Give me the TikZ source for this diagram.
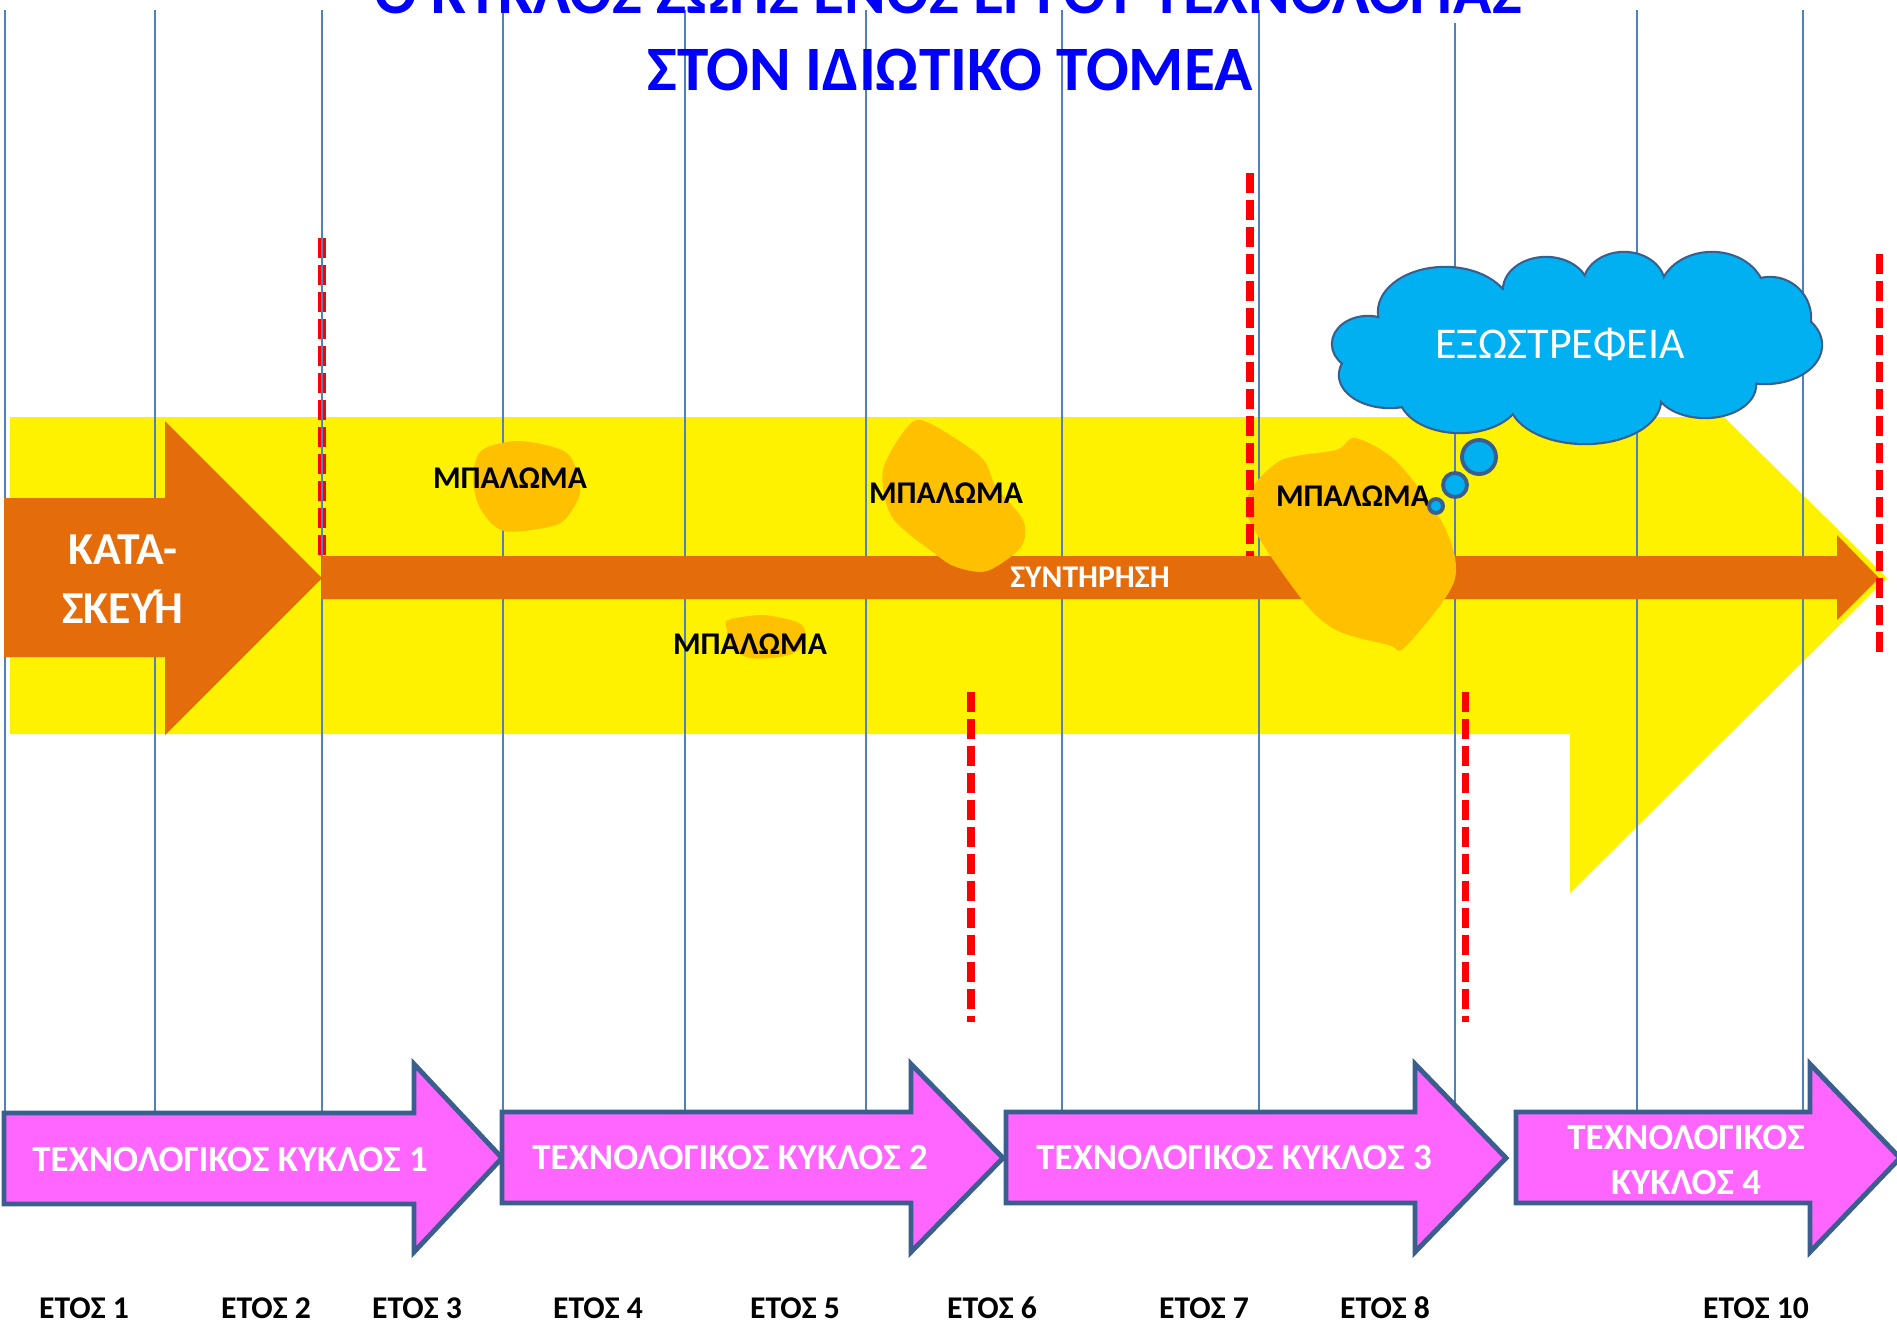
\documentclass[tikz,border=0pt]{standalone}
\usepackage{fontspec}
\setmainfont{Carlito}
\definecolor{lineblue}{HTML}{4F81BD}
\definecolor{buildorange}{HTML}{E46C0A}
\definecolor{patchgold}{HTML}{FFC000}
\definecolor{cyclepink}{HTML}{FF66FF}
\definecolor{edgeblue}{HTML}{3A5F8F}
\definecolor{cloudblue}{HTML}{00B0F0}

\begin{document}
\begin{tikzpicture}[x=0.02cm, y=-0.02cm,
  yearline/.style={lineblue, line width=1.1pt},
  cutline/.style={red, line width=4pt, dash pattern=on 0.4cm off 0.14cm},
  patchfill/.style={fill=patchgold},
  patchlabel/.style={font=\fontsize{18}{20}\selectfont\bfseries, inner sep=0pt, anchor=base},
  cyclearrow/.style={fill=cyclepink, draw=edgeblue, line width=2.8pt, line join=miter},
  cyclelabel/.style={font=\fontsize{21}{26}\selectfont\bfseries, text=white, inner sep=0pt, align=center},
  yearlabel/.style={font=\fontsize{18}{20}\selectfont\bfseries, inner sep=0pt, anchor=base},
  titlelabel/.style={font=\fontsize{36}{44}\selectfont\bfseries, text=blue, inner sep=0pt, anchor=base},
  bubble/.style={circle, fill=cloudblue, draw=edgeblue, line width=2.2pt, inner sep=0pt}]

\useasboundingbox (0,0) rectangle (1897,1323);

% big yellow arrow
\fill[yellow] (10,417) -- (1724,417) -- (1887,578) -- (1570,893) -- (1570,734) -- (10,734) -- cycle;

\draw[cutline] (322,238) -- (322,556);

% year grid
\foreach \x in {5,155,322,503,685,866,1062,1259,1637,1803}
  \draw[yearline] (\x,10) -- (\x,1150);
\draw[yearline] (1455,23) -- (1455,1150);

% construction and upkeep
\fill[buildorange] (4,498) -- (165,498) -- (165,421) -- (322,578) -- (165,735) -- (165,657) -- (4,657) -- cycle;
\fill[buildorange] (322,556) -- (1837,556) -- (1837,535) -- (1879,578) -- (1837,620) -- (1837,599) -- (322,599) -- cycle;

% patches
\fill[patchfill] plot[smooth cycle, tension=0.5] coordinates {(520,441) (567,453) (580,487) (574,507) (556,525) (504,531) (480,508) (473,477) (482,450)};
\fill[patchfill] plot[smooth cycle, tension=0.5] coordinates {(929,423) (981,457) (996,487) (1023,520) (1021,547) (987,571) (956,567) (934,553) (892,517) (883,470) (909,425)};
\fill[patchfill] plot[smooth cycle, tension=0.5] coordinates {(1356,438) (1398,463) (1445,528) (1454,582) (1405,647) (1389,645) (1336,630) (1300,597) (1246,510) (1278,462) (1336,450)};
\fill[patchfill] plot[smooth cycle, tension=0.5] coordinates {(728,620) (763,615) (797,622) (805,632) (798,650) (780,657) (750,658) (730,647) (727,630)};

\draw[cutline] (1250,173) -- (1250,556);
\draw[cutline] (1879,254) -- (1879,657);
\draw[cutline] (971,692) -- (971,1022);
\draw[cutline] (1465,692) -- (1465,1022);

\node[font=\fontsize{26}{33.6}\selectfont\bfseries, text=white, align=center, inner sep=0pt] (build) at (123,579)
  {ΚΑΤΑ-\\ΣΚΕΥ\makebox[0pt][l]{\hspace{-0.12em}\raisebox{0.04em}{´}}Η};
\node[font=\fontsize{18}{20}\selectfont\bfseries, text=white, inner sep=0pt, anchor=base] (upkeep) at (1090,587) {ΣΥΝΤΗΡΗΣΗ};

\node[patchlabel] (patch1) at (510,488) {ΜΠΑΛΩΜΑ};
\node[patchlabel] (patch2) at (946,503) {ΜΠΑΛΩΜΑ};
\node[patchlabel] (patch3) at (1353,506) {ΜΠΑΛΩΜΑ};
\node[patchlabel] (patch4) at (750,654) {ΜΠΑΛΩΜΑ};

% thought cloud: outline of all puffs, then fill over it
\foreach \cx/\cy/\rx/\ry in {1368/344/35/27, 1445/312/66/44, 1546/290/42/32, 1624/285/40/32,
    1712/295/52/42, 1770/318/40/40, 1765/345/56/38, 1705/385/50/32, 1585/400/75/43,
    1460/395/60/37, 1390/375/50/32}
  \draw[edgeblue, line width=2.5pt] (\cx,\cy) ellipse [x radius=\rx, y radius=\ry];
\foreach \cx/\cy/\rx/\ry in {1368/344/35/27, 1445/312/66/44, 1546/290/42/32, 1624/285/40/32,
    1712/295/52/42, 1770/318/40/40, 1765/345/56/38, 1705/385/50/32, 1585/400/75/43,
    1460/395/60/37, 1390/375/50/32, 1577/345/180/60}
  \fill[cloudblue] (\cx,\cy) ellipse [x radius=\rx, y radius=\ry];
\node[font=\fontsize{25}{30}\selectfont, text=white, inner sep=0pt] (thought) at (1560,344) {ΕΞΩΣΤΡΕΦΕΙΑ};
\node[bubble, minimum size=0.68cm] (bubble1) at (1479,457) {};
\node[bubble, minimum size=0.48cm] (bubble2) at (1455,485) {};
\node[bubble, minimum size=0.28cm] (bubble3) at (1436,506) {};

% technology cycles
\draw[cyclearrow] (4,1113) -- (414,1113) -- (414,1064) -- (502,1158) -- (414,1252) -- (414,1204) -- (4,1204) -- cycle;
\draw[cyclearrow] (502,1112) -- (911,1112) -- (911,1064) -- (1003,1158) -- (911,1252) -- (911,1203) -- (502,1203) -- cycle;
\draw[cyclearrow] (1006,1112) -- (1415,1112) -- (1415,1064) -- (1506,1158) -- (1415,1252) -- (1415,1203) -- (1006,1203) -- cycle;
\draw[cyclearrow] (1516,1112) -- (1810,1112) -- (1810,1064) -- (1900,1158) -- (1810,1252) -- (1810,1203) -- (1516,1203) -- cycle;

\node[cyclelabel] (cycle1) at (230,1160) {ΤΕΧΝΟΛΟΓΙΚΟΣ ΚΥΚΛΟΣ 1};
\node[cyclelabel] (cycle2) at (730,1158) {ΤΕΧΝΟΛΟΓΙΚΟΣ ΚΥΚΛΟΣ 2};
\node[cyclelabel] (cycle3) at (1234,1158) {ΤΕΧΝΟΛΟΓΙΚΟΣ ΚΥΚΛΟΣ 3};
\node[cyclelabel] (cycle4) at (1686,1160) {ΤΕΧΝΟΛΟΓΙΚΟΣ\\ΚΥΚΛΟΣ 4};

% years
\foreach \x/\n in {84/1, 266/2, 417/3, 598/4, 795/5, 992/6, 1204/7, 1385/8, 1756/10}
  \node[yearlabel] (year\n) at (\x,1318) {ΕΤΟΣ \n};

% title
\node[titlelabel] (title1) at (948,13) {Ο ΚΥΚΛΟΣ ΖΩΗΣ ΕΝΟΣ ΕΡΓΟΥ ΤΕΧΝΟΛΟΓΙΑΣ};
\node[titlelabel] (title2) at (950,90) {ΣΤΟΝ ΙΔΙΩΤΙΚΟ ΤΟΜΕΑ};

\end{tikzpicture}
\end{document}
